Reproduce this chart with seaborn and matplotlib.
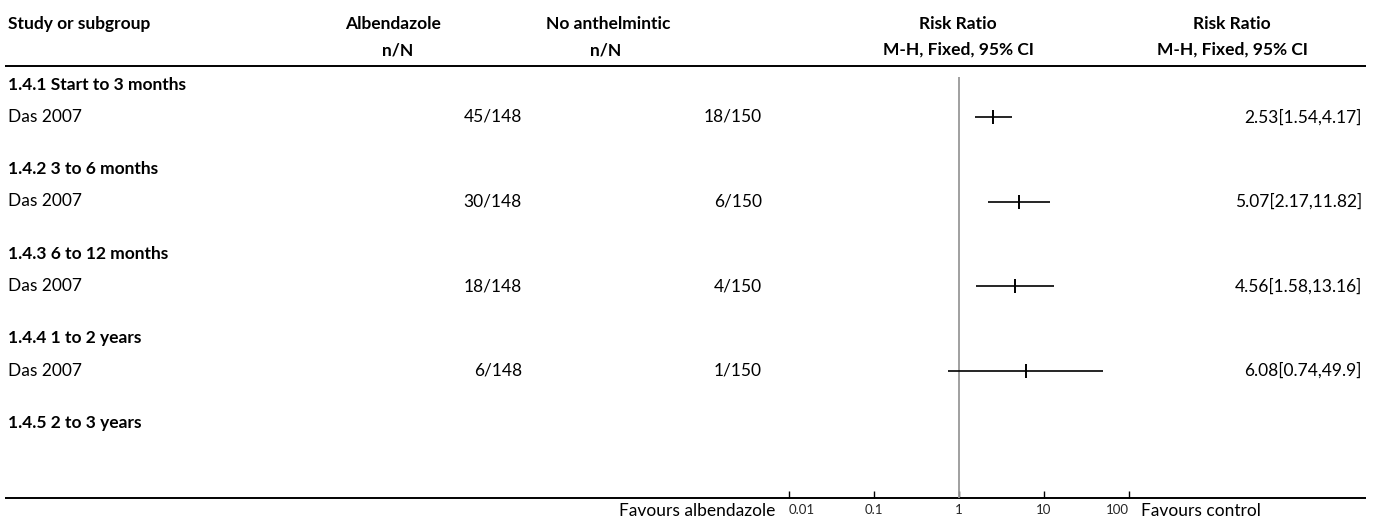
import matplotlib
matplotlib.use("Agg")
import matplotlib.pyplot as plt
import seaborn as sns
import pandas as pd

sns.set_theme(style="white")
plt.rcParams["font.family"] = ["Lato", "DejaVu Sans"]

# ---- data ----
subgroups = ["1.4.1 Start to 3 months", "1.4.2 3 to 6 months", "1.4.3 6 to 12 months",
             "1.4.4 1 to 2 years", "1.4.5 2 to 3 years"]
studies = ["Das 2007", "Das 2007", "Das 2007", "Das 2007"]
albendazole = ["45/148", "30/148", "18/148", "6/148"]
control = ["18/150", "6/150", "4/150", "1/150"]
rr = [2.53, 5.07, 4.56, 6.08]
ci_low = [1.54, 2.17, 1.58, 0.74]
ci_high = [4.17, 11.82, 13.16, 49.9]
ticks = [0.01, 0.1, 1, 10, 100]
tick_labels = ["0.01", "0.1", "1", "10", "100"]

W, H = 1375, 519
fig = plt.figure(figsize=(W / 100, H / 100), dpi=100)

# background axes in pixel coordinates for the table text and rules
bg = fig.add_axes([0, 0, 1, 1])
bg.set_xlim(0, W)
bg.set_ylim(H, 0)
bg.axis("off")

TOP, BOTTOM = 66, 498
X0, X1 = 789, 1129          # pixel span of 0.01 .. 100
HDR0, STEP, SUB = 85, 84.5, 32
LEFT = 8

fs = 12.5
bold = dict(fontsize=fs, fontweight="bold", color="black", va="center")
norm = dict(fontsize=fs, color="black", va="center")

# header
bg.text(LEFT, 24, "Study or subgroup", ha="left", **bold)
bg.text(393, 24, "Albendazole", ha="center", **bold)
bg.text(398, 50, "n/N", ha="center", **bold)
bg.text(608, 24, "No anthelmintic", ha="center", **bold)
bg.text(606, 50, "n/N", ha="center", **bold)
bg.text(958, 24, "Risk Ratio", ha="center", **bold)
bg.text(958, 50, "M-H, Fixed, 95% CI", ha="center", **bold)
bg.text(1232, 24, "Risk Ratio", ha="center", **bold)
bg.text(1232, 50, "M-H, Fixed, 95% CI", ha="center", **bold)

bg.plot([5, 1366], [TOP, TOP], color="black", lw=1.4, solid_capstyle="butt")
bg.plot([5, 1366], [BOTTOM, BOTTOM], color="black", lw=1.4, solid_capstyle="butt")

for i, name in enumerate(subgroups):
    bg.text(LEFT, HDR0 + STEP * i, name, ha="left", **bold)

for i, s in enumerate(studies):
    y = HDR0 + STEP * i + SUB
    bg.text(LEFT, y, s, ha="left", **norm)
    bg.text(522, y, albendazole[i], ha="right", **norm)
    bg.text(762, y, control[i], ha="right", **norm)
    bg.text(1362, y, f"{rr[i]:g}[{ci_low[i]:g},{ci_high[i]:g}]", ha="right", **norm)

bg.text(775, 511, "Favours albendazole", ha="right", **norm)
bg.text(1141, 511, "Favours control", ha="left", **norm)

# forest plot axes
ax = fig.add_axes([X0 / W, (H - BOTTOM) / H, (X1 - X0) / W, (BOTTOM - TOP) / H])
ax.patch.set_alpha(0)
ax.set_xscale("log")
ax.set_xlim(0.01, 100)
ax.set_ylim(BOTTOM, TOP)
for side in ["top", "right", "left", "bottom"]:
    ax.spines[side].set_visible(False)

df = pd.DataFrame({
    "rr": rr, "lo": ci_low, "hi": ci_high,
    "y": [HDR0 + STEP * i + SUB for i in range(len(rr))],
})

ax.vlines(1, 77, BOTTOM, color="#999999", lw=1.3, zorder=1)
ax.hlines(df["y"], df["lo"], df["hi"], color="black", lw=1.2, zorder=2)
sns.scatterplot(data=df, x="rr", y="y", marker="|", s=90, color="black",
                linewidth=1.4, ax=ax, zorder=3, legend=False)

ax.set_xticks(ticks)
ax.set_xticklabels(tick_labels)
ax.xaxis.set_minor_locator(matplotlib.ticker.NullLocator())
ax.tick_params(axis="x", direction="in", length=5, width=1, color="black",
               labelsize=9.5, pad=4, bottom=True)
labels = ax.get_xticklabels()
labels[0].set_ha("left")
labels[-1].set_ha("right")
ax.set_yticks([])
ax.set_xlabel("")
ax.set_ylabel("")

fig.savefig("out.png", dpi=100)
